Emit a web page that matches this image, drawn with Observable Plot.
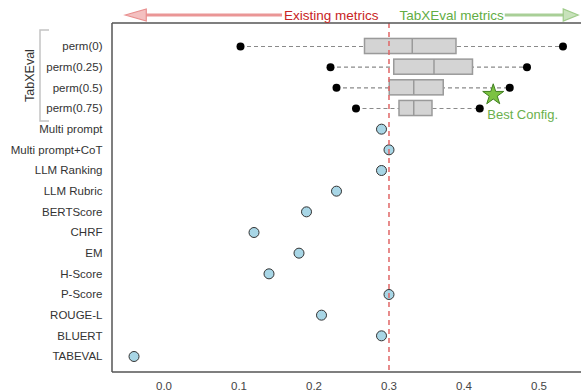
<!DOCTYPE html>
<html>
<head>
<meta charset="utf-8">
<script src="https://cdn.jsdelivr.net/npm/d3@7"></script>
<script src="https://cdn.jsdelivr.net/npm/@observablehq/plot@0.6"></script>
<style>
  html, body { margin: 0; padding: 0; background: white; }
</style>
</head>
<body>
<div id="chart"></div>
<script>
// ---- data ----
const labels = ["perm(0)", "perm(0.25)", "perm(0.5)", "perm(0.75)", "Multi prompt", "Multi prompt+CoT",
  "LLM Ranking", "LLM Rubric", "BERTScore", "CHRF", "EM", "H-Score", "P-Score", "ROUGE-L", "BLUERT", "TABEVAL"];

const permConfigs = ["perm(0)", "perm(0.25)", "perm(0.5)", "perm(0.75)"];
const permMin    = [0.102, 0.222, 0.230, 0.256];
const permQ1     = [0.268, 0.307, 0.301, 0.314];
const permMedian = [0.331, 0.360, 0.333, 0.333];
const permQ3     = [0.390, 0.412, 0.373, 0.358];
const permMax    = [0.532, 0.484, 0.461, 0.421];

const baselineMetrics = ["Multi prompt", "Multi prompt+CoT", "LLM Ranking", "LLM Rubric", "BERTScore", "CHRF",
  "EM", "H-Score", "P-Score", "ROUGE-L", "BLUERT", "TABEVAL"];
const baselineScores = [0.29, 0.30, 0.29, 0.23, 0.19, 0.12, 0.18, 0.14, 0.30, 0.21, 0.29, -0.04];

const threshold = 0.3;
const bestConfigLabel = "Best Config.";
const bestConfigRow = "perm(0.5)";
const bestConfigScore = 0.439;
const bestTextRow = "perm(0.75)";
const bestTextX = 0.431;

const xTicks = [0.0, 0.1, 0.2, 0.3, 0.4, 0.5];
const xDomain = [-0.0687, 0.5567];

const headerLeftText = "Existing metrics";
const headerRightText = "TabXEval metrics";
const leftArrowFrom = 0.158, leftArrowTo = -0.051;
const rightArrowFrom = 0.455, rightArrowTo = 0.553;

const groupLabel = "TabXEval";

// ---- build table ----
const permIdx = d3.range(permConfigs.length);
const baseIdx = d3.range(baselineMetrics.length);

const W = 581, H = 392, mL = 112, mR = 0, mT = 23, mB = 20;
const fontFam = "'Liberation Sans', Arial, sans-serif";

const plot = Plot.plot({
  width: W, height: H,
  marginLeft: mL, marginRight: mR, marginTop: mT, marginBottom: mB,
  style: {fontFamily: fontFam, fontSize: "11.5px", color: "#333", background: "white", overflow: "visible"},
  x: {domain: xDomain},
  y: {type: "band", domain: labels, range: [35.67, 366.33], paddingInner: 0.27, paddingOuter: 0.135, round: false},
  marks: [
    Plot.axisX({ticks: xTicks, tickFormat: d3.format(".1f"), tickSize: 0, tickPadding: 9, label: null, fill: "#444"}),
    Plot.axisY({tickSize: 0, tickPadding: 10, label: null, fill: "#333"}),
    Plot.ruleY(permIdx, {y: i => permConfigs[i], x1: i => permMin[i], x2: i => permMax[i],
      stroke: "#8a8a8a", strokeDasharray: "4,3", strokeWidth: 1.2}),
    Plot.barX(permIdx, {y: i => permConfigs[i], x1: i => permQ1[i], x2: i => permQ3[i],
      fill: "#d4d4d4", stroke: "#9a9a9a", strokeWidth: 1.5}),
    Plot.tickX(permIdx, {y: i => permConfigs[i], x: i => permMedian[i], stroke: "#9a9a9a", strokeWidth: 1.5}),
    Plot.dot(permIdx, {y: i => permConfigs[i], x: i => permMin[i], r: 4, fill: "black"}),
    Plot.dot(permIdx, {y: i => permConfigs[i], x: i => permMax[i], r: 4, fill: "black"}),
    Plot.dot(baseIdx, {y: i => baselineMetrics[i], x: i => baselineScores[i], r: 5,
      fill: "#a8d6e6", stroke: "#333", strokeWidth: 1}),
    Plot.ruleX([threshold], {stroke: "#e06666", strokeDasharray: "5,4", strokeWidth: 1.5}),
    Plot.dot([0], {x: () => bestConfigScore, y: () => bestConfigRow, dy: 7, symbol: "star", r: 6.6,
      fill: "#7cc242", stroke: "#3f7f1f", strokeWidth: 1}),
    Plot.text([0], {x: () => bestTextX, y: () => bestTextRow, text: () => bestConfigLabel, dy: 6,
      textAnchor: "start", fill: "#6ab04c", fontSize: 13})
  ]
});

const svg = d3.select(plot);
const xs = plot.scale("x");
const ys = plot.scale("y");
const X = v => xs.apply(v);
const Y = v => ys.apply(v);
const bw = ys.bandwidth;
const xr = xs.range;

// frame lines: left, top, bottom
const fr = svg.append("g").attr("stroke", "#555").attr("stroke-width", 1.5).attr("fill", "none");
fr.append("line").attr("x1", xr[0]).attr("x2", xr[0]).attr("y1", mT).attr("y2", H - mB);
fr.append("line").attr("x1", xr[0]).attr("x2", xr[1]).attr("y1", mT).attr("y2", mT);
fr.append("line").attr("x1", xr[0]).attr("x2", xr[1]).attr("y1", H - mB).attr("y2", H - mB);

// header arrows & texts
const hy = 15;
const hg = svg.append("g");
{
  const tip = X(leftArrowTo), tail = X(leftArrowFrom);
  hg.append("line").attr("x1", tail).attr("x2", tip + 18).attr("y1", hy).attr("y2", hy)
    .attr("stroke", "#ea9696").attr("stroke-width", 3);
  hg.append("polygon").attr("points", `${tip},${hy} ${tip + 21},${hy - 6} ${tip + 21},${hy + 6}`)
    .attr("fill", "#f4c0c0").attr("stroke", "#e88f8f").attr("stroke-width", 1.2);
}
{
  const tip = X(rightArrowTo), tail = X(rightArrowFrom);
  hg.append("line").attr("x1", tail).attr("x2", tip - 12).attr("y1", hy).attr("y2", hy)
    .attr("stroke", "#a9cf97").attr("stroke-width", 3);
  hg.append("polygon").attr("points", `${tip},${hy} ${tip - 15},${hy - 6} ${tip - 15},${hy + 6}`)
    .attr("fill", "#c8e2bb").attr("stroke", "#9fcb8a").attr("stroke-width", 1.2);
}
hg.append("text").attr("x", X(threshold) - 10).attr("y", hy).attr("dy", "0.35em")
  .attr("text-anchor", "end").attr("fill", "#c82424").attr("font-size", 13.5).attr("font-family", fontFam)
  .text(headerLeftText);
hg.append("text").attr("x", X(threshold) + 11).attr("y", hy).attr("dy", "0.35em")
  .attr("text-anchor", "start").attr("fill", "#62ad44").attr("font-size", 13.5).attr("font-family", fontFam)
  .text(headerRightText);

// group bracket
const gTop = Y(permConfigs[0]) + bw / 2 - 16;
const gBot = Y(permConfigs[permConfigs.length - 1]) + bw / 2 + 13;
const bx = 40;
svg.append("path")
  .attr("d", `M${bx + 9},${gTop} H${bx} V${gBot} H${bx + 9}`)
  .attr("fill", "none").attr("stroke", "#c4c4c4").attr("stroke-width", 1.5);
svg.append("text")
  .attr("transform", `translate(${bx - 10},${(gTop + gBot) / 2}) rotate(-90)`)
  .attr("text-anchor", "middle").attr("dy", "0.35em")
  .attr("font-size", 12.5).attr("font-family", fontFam).attr("fill", "#333")
  .text(groupLabel);

document.getElementById("chart").appendChild(plot);
</script>
</body>
</html>
